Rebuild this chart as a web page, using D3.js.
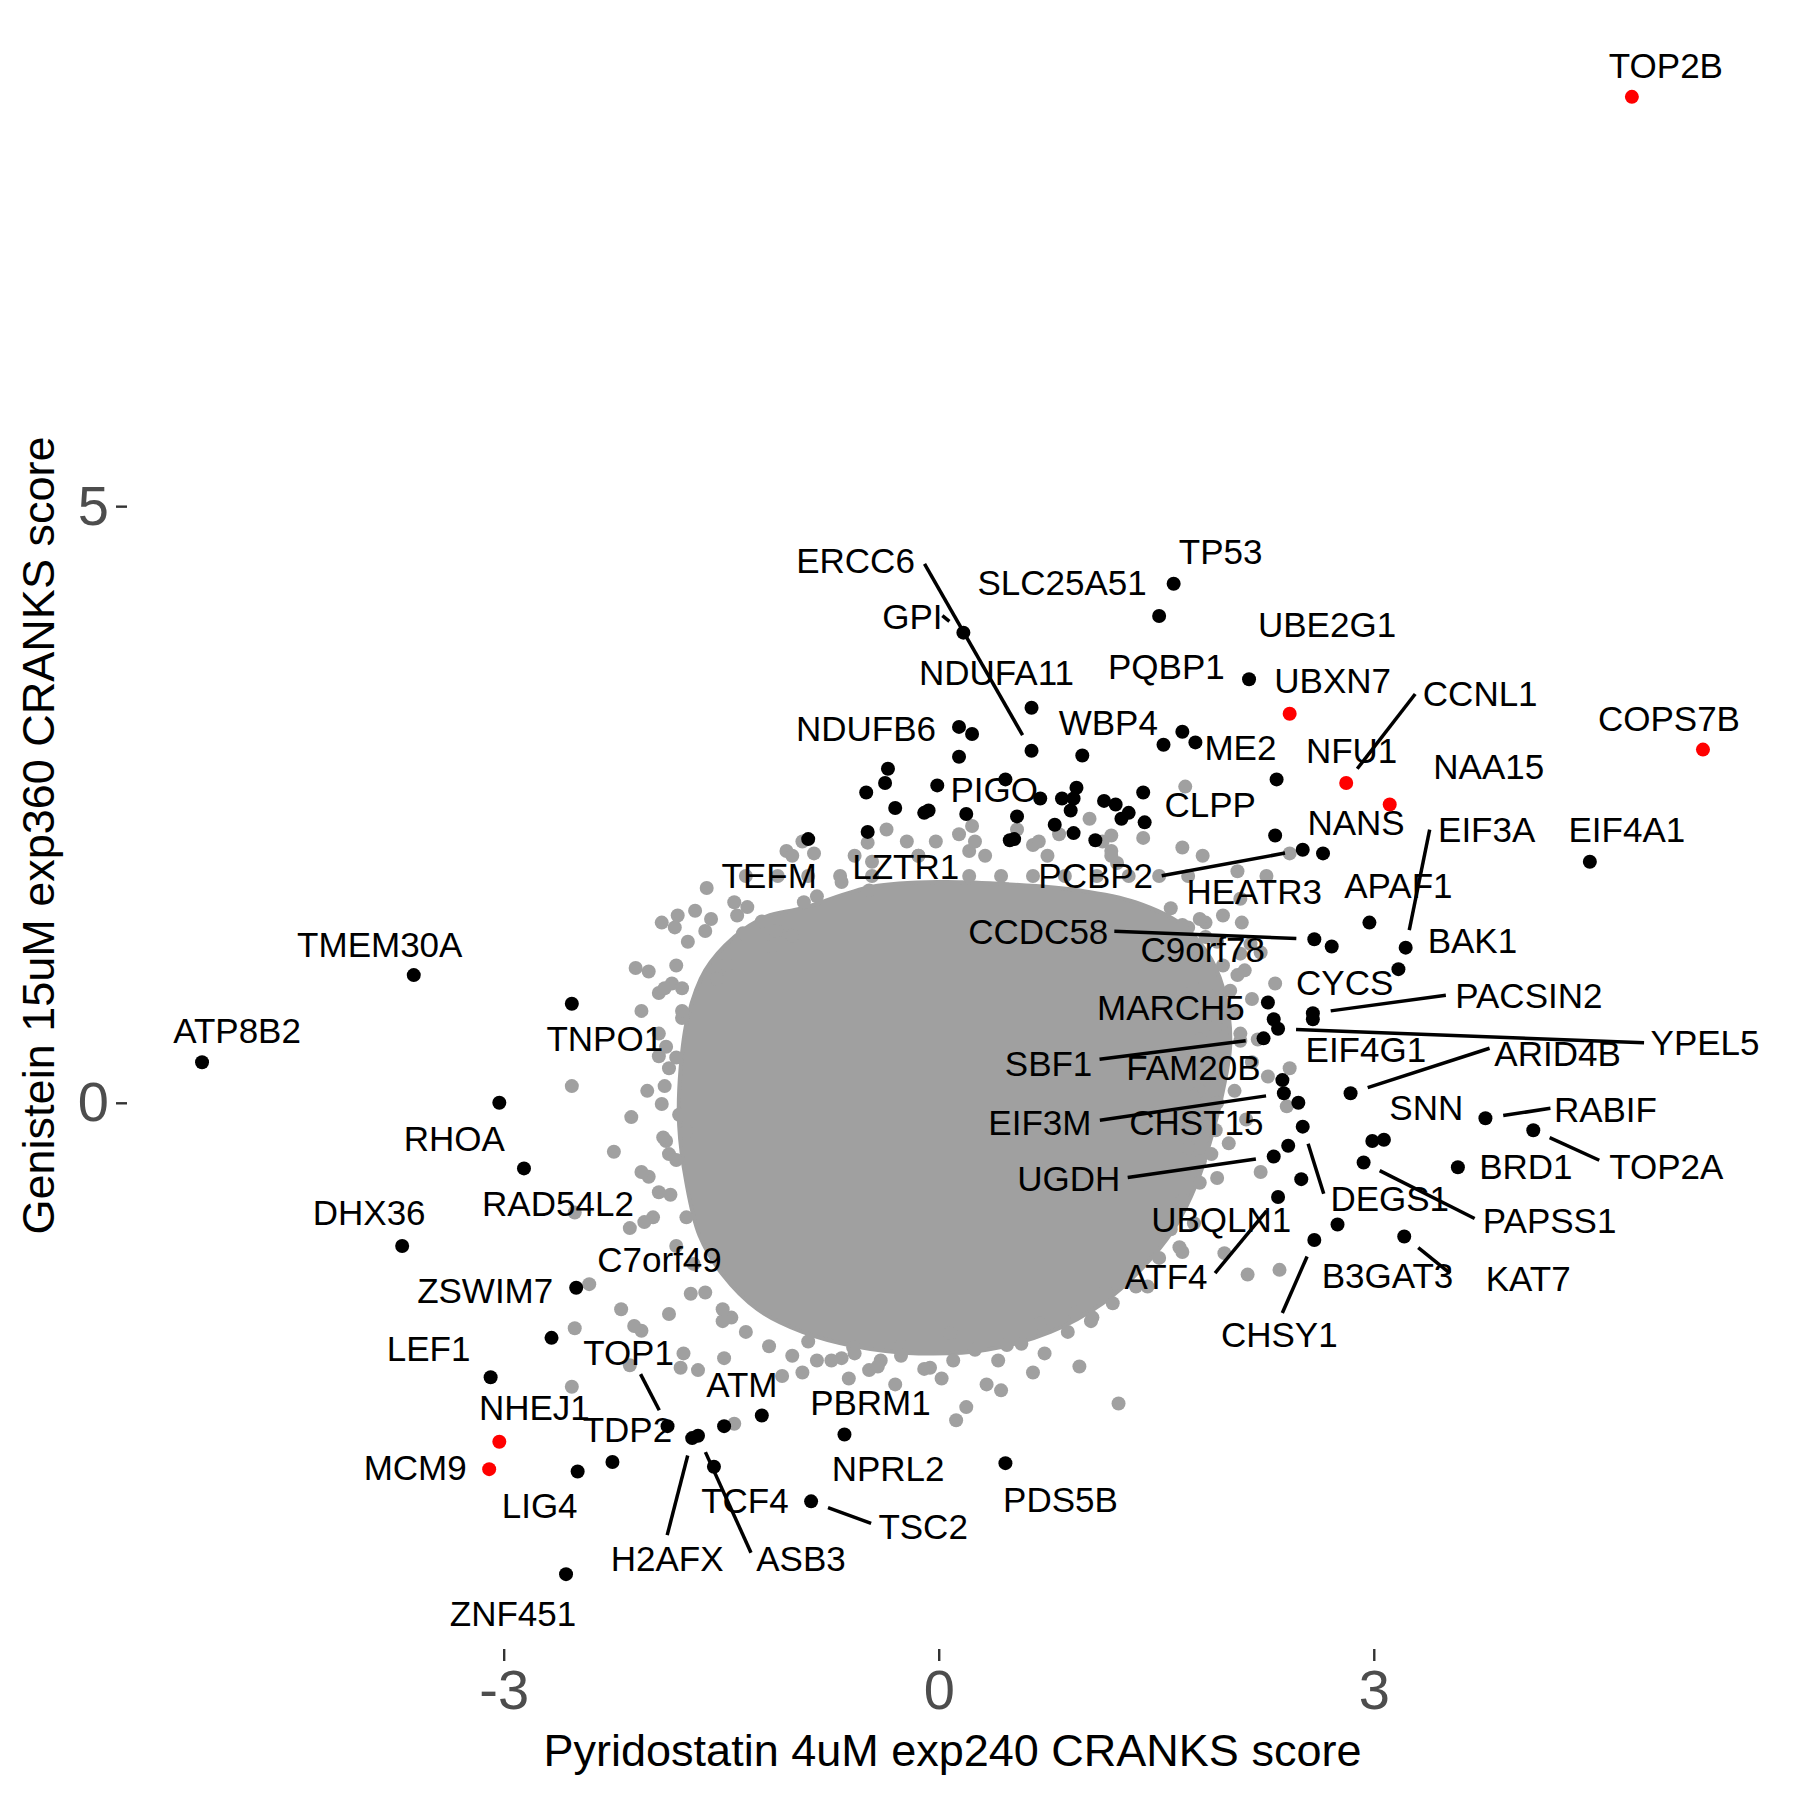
<!DOCTYPE html>
<meta charset="utf-8">
<style>
body { margin: 0; background: #fff; }
text { font-family: "Liberation Sans", Arial, Helvetica, sans-serif; }
.lab { font-size: 35px; fill: #000; }
.title { font-size: 45px; fill: #000; }
</style>
<svg width="1800" height="1800"></svg>
<script src="https://d3js.org/d3.v7.min.js"></script>
<script>

// labelled hits (CRANKS scores: x = Pyridostatin, y = Genistein)
var hitGenes = ["TOP2B","COPS7B","UBXN7","CCNL1","NAA15","NHEJ1","MCM9","TP53","SLC25A51","GPI",
  "ERCC6","UBE2G1","PQBP1","ME2","NDUFA11","NDUFB6","WBP4","PIGO","CLPP","NFU1",
  "NANS","PCBP2","HEATR3","EIF3A","EIF4A1","APAF1","BAK1","TEFM","LZTR1","CCDC58",
  "C9orf78","CYCS","PACSIN2","MARCH5","YPEL5","EIF4G1","SBF1","FAM20B","ARID4B","EIF3M",
  "CHST15","SNN","RABIF","TOP2A","BRD1","UGDH","DEGS1","PAPSS1","UBQLN1","ATF4",
  "B3GAT3","KAT7","CHSY1","TMEM30A","ATP8B2","TNPO1","RHOA","RAD54L2","DHX36","ZSWIM7",
  "C7orf49","LEF1","TOP1","TDP2","H2AFX","ASB3","ATM","PBRM1","NPRL2","TCF4",
  "TSC2","PDS5B","LIG4","ZNF451"];
var hitX = [4.78,5.27,2.42,2.81,3.11,-3.03,-3.10,1.62,1.52,0.17,
  0.64,2.14,1.68,1.77,0.64,0.14,0.99,-0.01,1.41,2.33,
  2.65,2.51,2.32,3.22,4.49,2.97,3.17,-0.90,-0.49,2.59,
  2.71,2.31,2.58,2.27,2.34,2.58,2.24,2.37,2.84,2.38,
  2.48,2.99,3.77,4.10,3.58,2.31,2.51,2.93,2.50,2.34,
  2.75,3.21,2.59,-3.62,-5.08,-2.53,-3.03,-2.86,-3.70,-2.50,
  -2.67,-3.09,-1.87,-2.25,-1.70,-1.66,-1.22,-0.65,-1.48,-1.55,
  -0.88,0.46,-2.49,-2.57];
var hitY = [8.43,2.96,3.26,2.68,2.50,-2.84,-3.07,4.35,4.08,3.94,
  2.95,3.55,3.11,3.02,3.31,3.15,2.91,2.66,2.60,2.71,
  2.09,2.12,2.24,1.30,2.02,1.51,1.12,2.21,2.27,1.37,
  1.31,0.70,0.75,0.84,0.62,0.70,0.54,0.19,0.08,0.08,
  0.00,-0.32,-0.13,-0.23,-0.54,-0.45,-0.20,-0.50,-0.64,-0.79,
  -1.02,-1.12,-1.15,1.07,0.34,0.83,0.00,-0.55,-1.20,-1.55,
  -1.97,-2.30,-2.71,-3.01,-2.81,-2.79,-2.62,-2.78,-2.71,-3.05,
  -3.34,-3.02,-3.09,-3.95];
var redGenes = ["TOP2B","COPS7B","UBXN7","CCNL1","NAA15","NHEJ1","MCM9"];

// hits without a label
var otherX = [0.23,0.14,1.55,-0.35,-0.37,-0.50,-0.30,-0.10,-0.07,0.19,0.46,0.70,0.85,0.93,0.95,
  0.91,1.14,1.22,1.31,1.26,1.42,0.54,0.80,0.93,1.08,0.49,0.52,2.41,3.07];
var otherY = [3.09,2.90,3.00,2.80,2.68,2.60,2.47,2.43,2.45,2.42,2.71,2.55,2.55,2.55,2.64,
  2.45,2.53,2.50,2.43,2.38,2.35,2.40,2.33,2.26,2.20,2.20,2.21,-0.36,-0.31];

// non-hit genes: outline of the dense centre, then the scattered ones
var coreX = [-0.94,-0.46,0.02,0.49,0.97,1.36,1.68,1.88,1.98,2.01,1.96,1.88,1.78,1.62,1.40,
  1.13,0.77,0.33,-0.14,-0.58,-0.94,-1.25,-1.49,-1.65,-1.74,-1.79,-1.78,-1.73,-1.61,-1.41,-1.19];
var coreY = [1.63,1.81,1.85,1.83,1.78,1.68,1.49,1.20,0.87,0.48,0.10,-0.29,-0.67,-1.06,-1.39,
  -1.68,-1.92,-2.07,-2.10,-2.04,-1.92,-1.73,-1.44,-1.11,-0.67,-0.19,0.29,0.72,1.11,1.39,1.56];
var bgX = [1.70,1.04,1.41,1.68,1.82,1.19,-0.36,0.54,0.83,-1.05,-0.86,-0.49,-0.02,0.23,0.14,
  2.26,2.42,2.06,1.96,2.09,2.15,2.22,2.11,2.32,2.42,1.19,1.23,1.72,1.84,2.06,
  2.08,2.20,2.03,2.27,2.40,2.22,2.13,2.35,1.66,0.94,1.06,1.15,0.47,0.43,0.19,
  1.24,1.97,1.53,1.62,2.08,1.94,1.80,1.91,1.80,-2.19,-2.10,-2.05,-1.86,-1.71,-1.76,
  -1.78,-1.66,-1.48,-1.43,-1.08,-1.41,-0.84,-0.67,-0.59,-0.48,-0.40,-0.26,-0.06,0.08,0.12,
  0.70,-2.53,-2.41,-2.51,-2.13,-2.13,-2.03,-2.00,-2.24,-2.12,-1.88,-1.93,-1.86,-1.91,-2.53,
  -2.51,-2.09,-2.00,-1.93,-1.84,-1.77,-1.46,-1.91,-1.82,-1.80,-1.68,-1.39,-1.32,-1.35,-1.22,
  -1.12,-1.60,-1.86,-1.93,-1.74,-1.88,-1.77,-1.53,-1.15,-1.01,-0.84,-0.67,-0.48,-0.46,-0.14,
  0.21,0.65,-0.93,1.80,2.01,1.91,1.73,1.66,1.63,
  // top band
  -1.01,-0.58,-0.14,0.32,0.75,1.19,-1.33,-1.11,-0.90,-0.68,-0.46,0.21,0.43,0.65,0.87,
  1.09,1.31,1.52,1.72,-0.94,-0.22,0.25,0.69,1.13,-1.41,-1.57,1.60,1.80,1.92,
  // right band
  1.68,1.84,1.80,1.96,2.08,1.64,1.76,1.92,2.04,2.16,1.84,1.68,1.80,1.96,2.08,
  2.16,1.88,1.72,1.76,1.92,2.04,2.12,1.84,1.72,1.88,2.00,1.80,1.68,1.92,1.60,
  1.76,1.52,1.44,1.68,
  // bottom band
  -1.49,-1.33,-1.17,-1.01,-0.90,-0.74,-0.58,-0.42,-0.26,-0.10,0.10,0.25,0.41,0.57,0.73,
  0.89,1.05,1.20,1.36,-0.94,-0.62,-0.30,0.02,0.33,0.65,0.97,
  // left band
  -1.81,-1.89,-1.77,-1.93,-1.81,-1.89,-1.79,-1.90,-1.81,-1.85,-1.74,-1.81,-1.69,-1.61,-1.49,
  -2.05,-2.01,-2.05,-1.97,-1.73,-1.61];
var bgY = [2.65,2.38,2.22,2.14,2.07,2.24,2.29,2.29,2.25,2.11,2.09,2.18,2.19,2.32,2.25,
  1.90,2.09,1.94,1.57,1.51,1.33,1.26,1.11,1.00,0.29,2.11,2.01,1.47,1.51,1.07,
  0.52,0.53,0.77,0.22,-0.03,-0.58,-1.44,-1.40,-1.21,-1.76,-1.80,-1.59,-2.03,-2.41,-2.55,
  -2.52,-1.26,-1.08,-0.94,1.71,0.35,0.10,-0.23,-0.49,-1.73,-1.87,-1.91,-1.77,-1.60,-2.10,
  -2.22,-2.24,-2.14,-1.80,-2.29,-2.69,-2.16,-2.14,-2.05,-2.24,-2.16,-2.04,-2.22,-1.93,-2.66,
  -1.85,-2.38,-1.52,-1.89,-2.20,-1.05,-1.00,-0.62,-0.41,-0.12,-0.32,0.39,0.29,-0.01,0.14,
  -0.92,1.13,1.10,0.92,1.00,0.96,1.16,1.51,1.47,1.57,1.61,1.57,1.64,1.42,1.52,
  1.44,1.80,-0.43,-0.75,-0.24,0.47,0.71,1.04,1.31,1.40,1.73,1.85,1.78,2.02,2.07,
  2.11,2.16,1.68,0.85,0.94,0.64,0.35,0.77,1.27,
  // top band
  2.07,2.07,2.07,2.07,2.07,2.07,1.90,1.90,1.90,1.90,1.90,1.90,1.90,1.90,1.90,
  1.90,1.90,1.90,1.90,2.19,2.19,2.19,2.19,2.19,1.68,1.54,1.63,1.54,1.35,
  // right band
  1.49,1.39,1.20,1.15,1.25,1.25,0.96,0.91,0.77,0.87,0.72,0.77,0.53,0.43,0.58,
  0.34,0.24,0.38,0.05,0.00,0.10,-0.14,-0.19,-0.38,-0.43,-0.34,-0.67,-0.82,-0.63,-1.06,
  -1.01,-1.30,-1.54,-1.25,
  // bottom band
  -1.83,-1.92,-2.04,-2.12,-2.00,-2.16,-2.10,-2.21,-2.12,-2.23,-2.16,-2.07,-2.16,-2.02,-2.10,
  -1.92,-1.83,-1.68,-1.54,-2.26,-2.31,-2.36,-2.31,-2.36,-2.26,-2.21,
  // left band
  1.15,0.96,0.77,0.58,0.38,0.14,-0.10,-0.29,-0.48,-0.77,-0.96,-1.20,-1.35,-1.59,-1.73,
  0.77,0.10,-0.58,-0.96,1.35,1.44];

var xTicks = [-3, 0, 3];
var yTicks = [0, 5];

// label placement (px offset of label centre from its point, then optional leader start)
var labelLayout = {
  TOP2B:[34,-31], COPS7B:[-34,-31], UBXN7:[43,-33], CCNL1:[134,-89,69,-89], NAA15:[99,-38],
  NHEJ1:[35,-34], MCM9:[-74,-2], TP53:[47,-32], SLC25A51:[-97,-33], GPI:[-51,-16,-21,-17],
  ERCC6:[-176,-190,-107,-187], UBE2G1:[78,-55], PQBP1:[-16,-65], ME2:[45,5], NDUFA11:[-35,-35],
  NDUFB6:[-93,2], WBP4:[26,-33], PIGO:[57,4], CLPP:[67,12], NFU1:[75,-29],
  NANS:[33,-31], PCBP2:[-207,26,-141,26], HEATR3:[-21,56], EIF3A:[81,-118,24,-118], EIF4A1:[37,-32],
  APAF1:[29,-37], BAK1:[74,-29], TEFM:[-39,36], LZTR1:[38,35], CCDC58:[-276,-8,-200,-8],
  C9orf78:[-129,3], CYCS:[71,-37], PACSIN2:[216,-18,133,-18], MARCH5:[-97,5], YPEL5:[427,14,366,14],
  EIF4G1:[53,30], SBF1:[-215,25,-164,21], FAM20B:[-89,-13], ARID4B:[207,-40,139,-45], EIF3M:[-244,29,-184,27],
  CHST15:[-102,20], SNN:[54,-33], RABIF:[120,-9,65,-10], TOP2A:[133,36,66,30], BRD1:[68,-1],
  UGDH:[-205,22,-146,21], DEGS1:[87,72,21,67], PAPSS1:[186,58,111,56], UBQLN1:[-80,40], ATF4:[-112,79,-63,76],
  B3GAT3:[50,51], KAT7:[124,42,46,37], CHSY1:[-35,94,-32,73], TMEM30A:[-34,-31], ATP8B2:[35,-32],
  TNPO1:[33,35], RHOA:[-45,36], RAD54L2:[34,35], DHX36:[-33,-33], ZSWIM7:[-91,3],
  C7orf49:[108,-78], LEF1:[-62,-29], TOP1:[-39,-74,-27,-52], TDP2:[15,-32], H2AFX:[-25,120,-25,97],
  ASB3:[103,123,53,117], ATM:[-20,-31], PBRM1:[26,-32], NPRL2:[164,42], TCF4:[31,34],
  TSC2:[112,25,60,22], PDS5B:[55,36], LIG4:[-38,34], ZNF451:[-53,39]
};

var svg = d3.select("svg"),
    margin = {left: 127, right: 22, top: 23, bottom: 152},
    width = +svg.attr("width"),
    height = +svg.attr("height");

var allX = hitX.concat(otherX, bgX),
    allY = hitY.concat(otherY, bgY);
var xPad = (d3.max(allX) - d3.min(allX)) * 0.05,
    yPad = (d3.max(allY) - d3.min(allY)) * 0.05;

var x = d3.scaleLinear()
    .domain([d3.min(allX) - xPad, d3.max(allX) + xPad])
    .range([margin.left, width - margin.right]);
var y = d3.scaleLinear()
    .domain([d3.min(allY) - yPad, d3.max(allY) + yPad])
    .range([height - margin.bottom, margin.top]);

var r = 7, grey = "#a0a0a0";

// dense centre of the non-hit cloud
var coreLine = d3.line()
    .x(function(i) { return x(coreX[i]); })
    .y(function(i) { return y(coreY[i]); })
    .curve(d3.curveCatmullRomClosed);
svg.append("path")
    .attr("d", coreLine(d3.range(coreX.length)))
    .attr("fill", grey)
    .attr("stroke", grey)
    .attr("stroke-width", 4);

svg.append("g").selectAll("circle")
    .data(d3.range(bgX.length))
    .enter().append("circle")
      .attr("cx", function(i) { return x(bgX[i]); })
      .attr("cy", function(i) { return y(bgY[i]); })
      .attr("r", r)
      .attr("fill", grey);

svg.append("g").selectAll("circle")
    .data(d3.range(otherX.length))
    .enter().append("circle")
      .attr("cx", function(i) { return x(otherX[i]); })
      .attr("cy", function(i) { return y(otherY[i]); })
      .attr("r", r)
      .attr("fill", "#000");

var hitIdx = d3.range(hitGenes.length);
// black first, red on top
hitIdx.sort(function(a, b) {
  return (redGenes.indexOf(hitGenes[a]) >= 0) - (redGenes.indexOf(hitGenes[b]) >= 0);
});
svg.append("g").selectAll("circle")
    .data(hitIdx)
    .enter().append("circle")
      .attr("cx", function(i) { return x(hitX[i]); })
      .attr("cy", function(i) { return y(hitY[i]); })
      .attr("r", r)
      .attr("fill", function(i) { return redGenes.indexOf(hitGenes[i]) >= 0 ? "#ff0000" : "#000"; });

// labels and leader lines
var labG = svg.append("g"), segG = svg.append("g");
hitGenes.forEach(function(g, i) {
  var L = labelLayout[g];
  if (!L) return;
  var px = x(hitX[i]), py = y(hitY[i]);
  labG.append("text")
      .attr("class", "lab")
      .attr("x", px + L[0])
      .attr("y", py + L[1])
      .attr("text-anchor", "middle")
      .attr("dominant-baseline", "central")
      .text(g);
  if (L.length > 2) {
    var sx = px + L[2], sy = py + L[3];
    var vx = px - sx, vy = py - sy, len = Math.sqrt(vx * vx + vy * vy);
    var gap = 18;
    if (len <= gap) return;
    segG.append("line")
        .attr("x1", sx).attr("y1", sy)
        .attr("x2", px - gap * vx / len)
        .attr("y2", py - gap * vy / len)
        .attr("stroke", "#000")
        .attr("stroke-width", 3.5);
  }
});

// axes: ticks + labels only
var xAxis = svg.append("g")
    .attr("transform", "translate(0," + (height - margin.bottom + 1) + ")")
    .call(d3.axisBottom(x).tickValues(xTicks).tickSize(12).tickPadding(8)
      .tickFormat(function(d) { return String(d); }));
var yAxis = svg.append("g")
    .attr("transform", "translate(" + margin.left + ",0)")
    .call(d3.axisLeft(y).tickValues(yTicks).tickSize(11).tickPadding(7)
      .tickFormat(function(d) { return String(d); }));
[xAxis, yAxis].forEach(function(a) {
  a.select(".domain").remove();
  a.attr("font-family", null).attr("font-size", null);
  a.selectAll(".tick line").attr("stroke", "#333").attr("stroke-width", 2.4);
  a.selectAll(".tick text")
      .style("font-family", '"Liberation Sans", Arial, sans-serif')
      .style("font-size", "56px")
      .attr("fill", "#4d4d4d");
});

svg.append("text")
    .attr("class", "title")
    .attr("x", (margin.left + width - margin.right) / 2)
    .attr("y", 1766)
    .attr("text-anchor", "middle")
    .text("Pyridostatin 4uM exp240 CRANKS score");

svg.append("text")
    .attr("class", "title")
    .attr("transform", "translate(54," + (margin.top + height - margin.bottom) / 2 + ") rotate(-90)")
    .attr("text-anchor", "middle")
    .text("Genistein 15uM exp360 CRANKS score");

</script>
